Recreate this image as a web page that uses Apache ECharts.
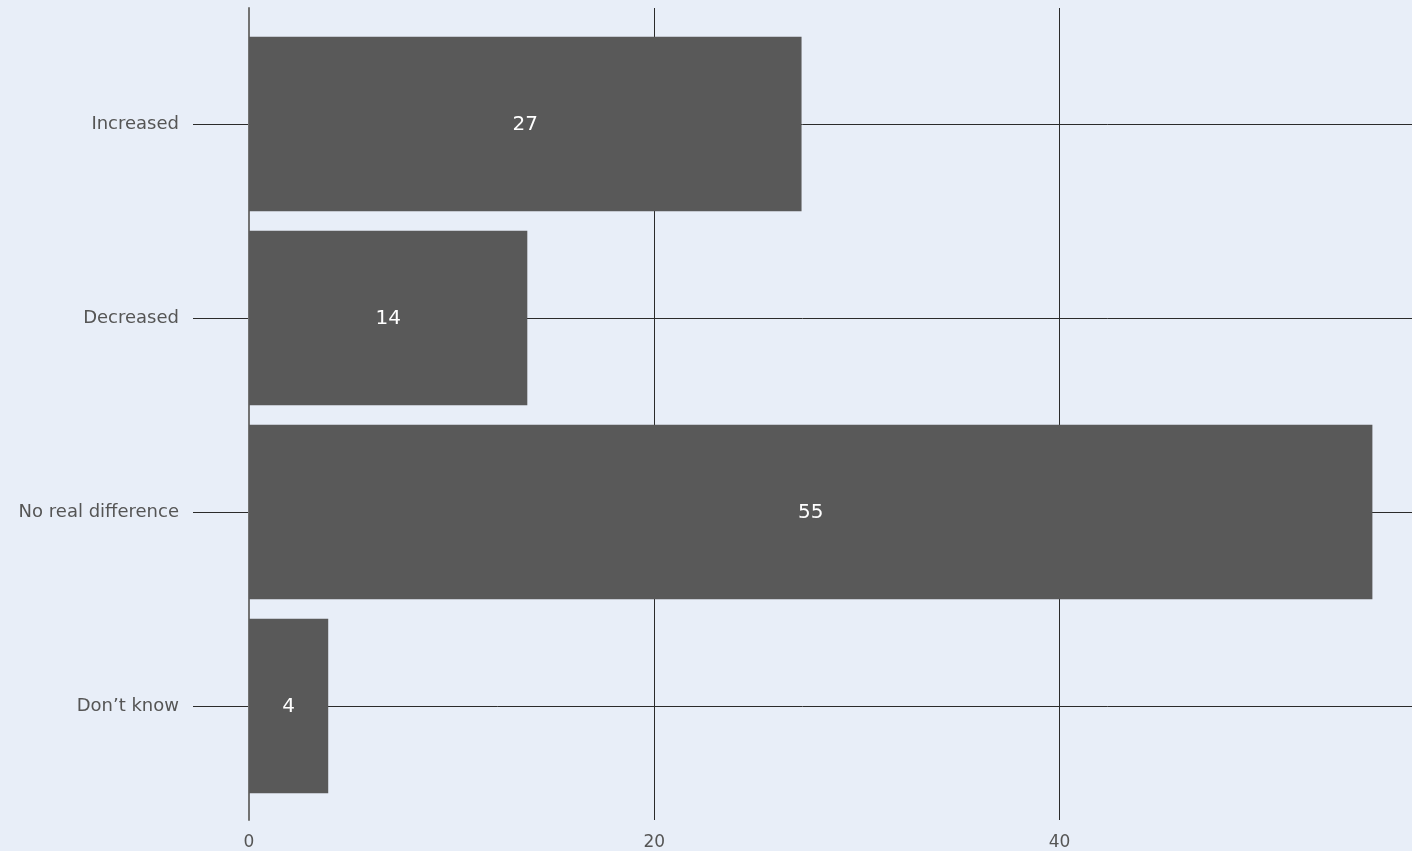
<!DOCTYPE html>
<html><head><meta charset="utf-8">
<script src="https://cdn.jsdelivr.net/npm/echarts@6/dist/echarts.min.js"></script>
<style>html,body{margin:0;padding:0;background:#e8eef8;}#c{width:1412px;height:851px;}</style>
</head><body><div id="c"></div>
<script>
const categories = ['Increased', 'Decreased', 'No real difference', "Don\u2019t know"];
const values = [27.2, 13.7, 55.3, 3.9];
const xTicks = [0, 20, 40];

const FONT = 'DejaVu Sans';
const chart = echarts.init(document.getElementById('c'), null, {renderer: 'canvas'});
const xMax = 57.25;
chart.setOption({
  backgroundColor: '#e8eef8',
  animation: false,
  grid: [
    {left: 249, right: 0, top: 27, bottom: 48},   // bars
    {left: 249, right: 0, top: 8, bottom: 28},    // vertical grid lines
    {left: 193, right: 0, top: 124, bottom: 145}  // horizontal lines + labels
  ],
  xAxis: [
    {gridIndex: 0, type: 'value', min: 0, max: xMax, show: false},
    {gridIndex: 1, type: 'value', min: 0, max: xMax, interval: 20,
      axisLine: {show: false}, axisTick: {show: false},
      splitLine: {show: true, lineStyle: {color: ['rgba(0,0,0,0)', '#2b2b2b', '#2b2b2b'], width: 1}},
      axisLabel: {fontFamily: FONT, fontSize: 17, color: '#555', margin: 14,
        formatter: v => xTicks.includes(v) ? String(v) : ''}},
    {gridIndex: 2, type: 'value', min: 0, max: 1, show: false}
  ],
  yAxis: [
    {gridIndex: 0, type: 'category', data: categories, inverse: true, show: false},
    {gridIndex: 1, type: 'value', min: 0, max: 1,
      axisLine: {show: true, lineStyle: {color: '#727272', width: 2}},
      axisTick: {show: false}, axisLabel: {show: false}, splitLine: {show: false}},
    {gridIndex: 2, type: 'category', data: categories, inverse: true, boundaryGap: false,
      axisLine: {show: false}, axisTick: {show: false},
      splitLine: {show: true, lineStyle: {color: '#2b2b2b', width: 1}},
      axisLabel: {fontFamily: FONT, fontSize: 18, color: '#555', margin: 14}}
  ],
  series: [{
    type: 'bar', xAxisIndex: 0, yAxisIndex: 0, data: values,
    barCategoryGap: '10%', itemStyle: {color: '#595959'}, z: 3,
    label: {show: true, position: 'inside', color: '#ffffff', fontFamily: FONT, fontSize: 20,
      offset: [0, 1], formatter: p => Math.round(p.value)}
  }]
});
</script></body></html>
